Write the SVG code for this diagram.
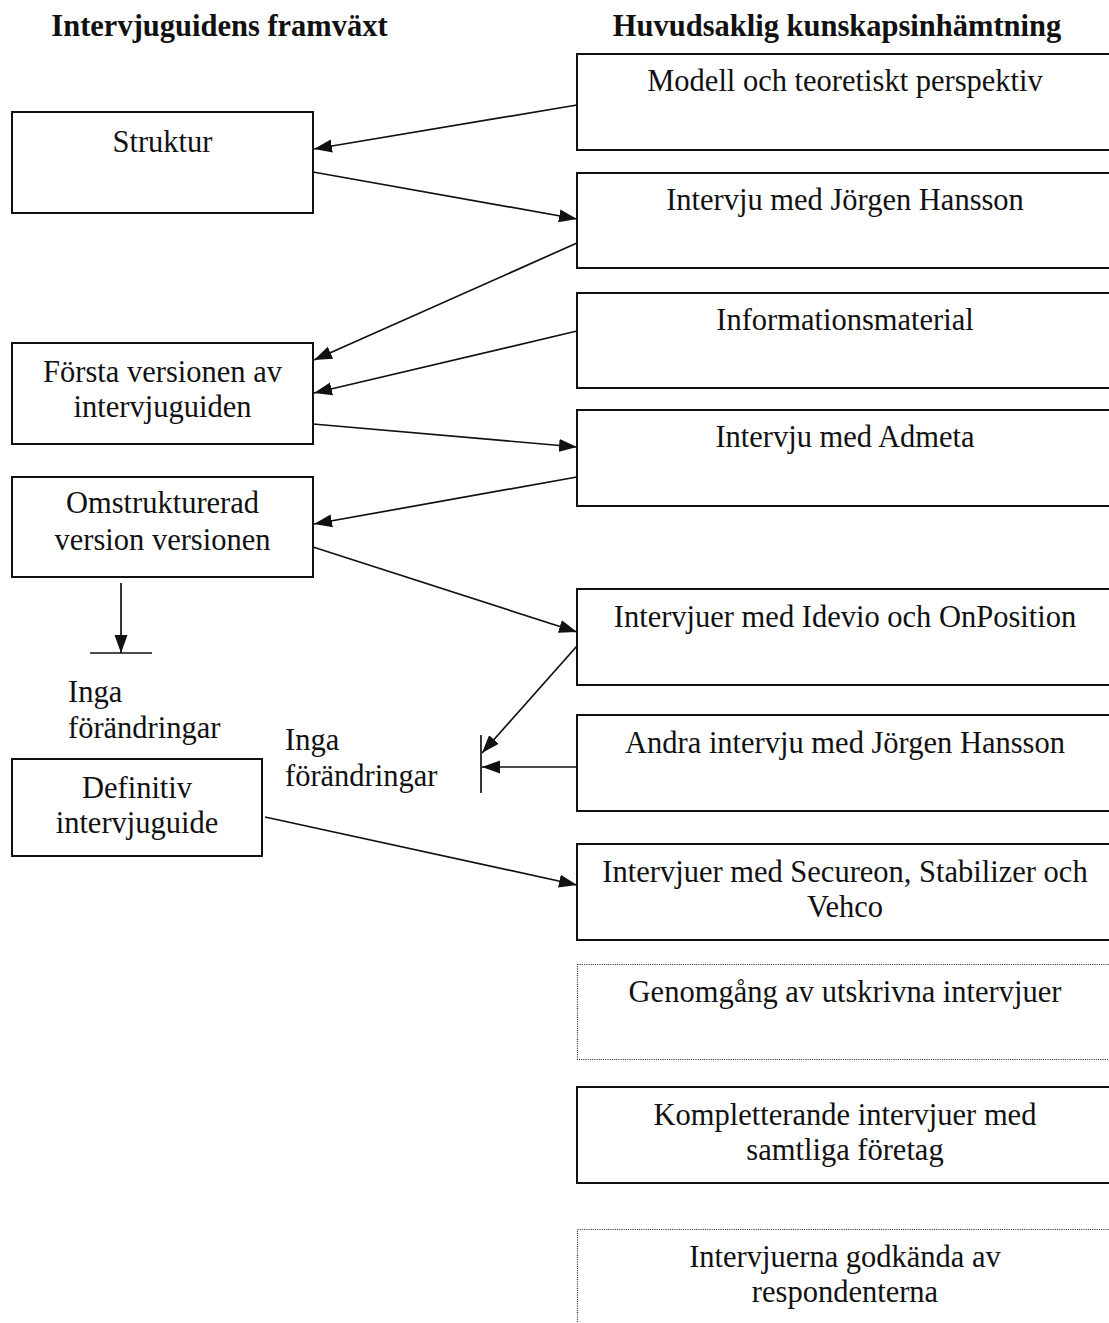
<svg xmlns="http://www.w3.org/2000/svg" width="1109" height="1323" viewBox="0 0 1109 1323">
<style>
  text { font-family: "Liberation Serif", "Times New Roman", serif; font-size: 30.5px; fill: #111; }
  .hdr { font-weight: bold; }
  .c { text-anchor: middle; }
  .box { fill: #fff; stroke: #111; stroke-width: 2; }
  .dot { fill: #fff; stroke: #222; stroke-width: 1.2; stroke-dasharray: 1 1.2; }
  .ln { stroke: #111; stroke-width: 1.7; fill: none; }
</style>
<defs>
  <marker id="ah" markerWidth="18" markerHeight="14" refX="18" refY="7" orient="auto" markerUnits="userSpaceOnUse">
    <path d="M0,0.5 L18,7 L0,13.5 z" fill="#111"/>
  </marker>
</defs>
<rect width="1109" height="1323" fill="#fff"/>

<g id="headers">
  <text class="hdr c" x="219.5" y="36">Intervjuguidens framväxt</text>
  <text class="hdr c" x="837" y="36">Huvudsaklig kunskapsinhämtning</text>
</g>

<g id="n-modell"><rect class="box" x="577" y="54" width="540" height="96"/><text class="c" x="845" y="91">Modell och teoretiskt perspektiv</text></g>
<g id="n-struktur"><rect class="box" x="12" y="112" width="301" height="101"/><text class="c" x="162.5" y="152">Struktur</text></g>
<g id="n-jorgen"><rect class="box" x="577" y="173" width="540" height="95"/><text class="c" x="845" y="210">Intervju med Jörgen Hansson</text></g>
<g id="n-info"><rect class="box" x="577" y="293" width="540" height="95"/><text class="c" x="845" y="330">Informationsmaterial</text></g>
<g id="n-forsta"><rect class="box" x="12" y="343" width="301" height="101"/><text class="c" x="162.5" y="382">Första versionen av</text><text class="c" x="162.5" y="417">intervjuguiden</text></g>
<g id="n-admeta"><rect class="box" x="577" y="410" width="540" height="96"/><text class="c" x="845" y="447">Intervju med Admeta</text></g>
<g id="n-omstr"><rect class="box" x="12" y="477" width="301" height="100"/><text class="c" x="162.5" y="513">Omstrukturerad</text><text class="c" x="162.5" y="550">version versionen</text></g>
<g id="n-idevio"><rect class="box" x="577" y="589" width="540" height="96"/><text class="c" x="845" y="627">Intervjuer med Idevio och OnPosition</text></g>
<g id="n-inga1"><text x="68" y="702">Inga</text><text x="68" y="738">förändringar</text></g>
<g id="n-andra"><rect class="box" x="577" y="715" width="540" height="96"/><text class="c" x="845" y="753">Andra intervju med Jörgen Hansson</text></g>
<g id="n-inga2"><text x="285" y="750">Inga</text><text x="285" y="786">förändringar</text></g>
<g id="n-definitiv"><rect class="box" x="12" y="759" width="250" height="97"/><text class="c" x="137" y="798">Definitiv</text><text class="c" x="137" y="833">intervjuguide</text></g>
<g id="n-secureon"><rect class="box" x="577" y="844" width="540" height="96"/><text class="c" x="845" y="882">Intervjuer med Secureon, Stabilizer och</text><text class="c" x="845" y="917">Vehco</text></g>
<g id="n-genomgang"><rect class="dot" x="577.5" y="964.5" width="540" height="95"/><text class="c" x="845" y="1002">Genomgång av utskrivna intervjuer</text></g>
<g id="n-kompl"><rect class="box" x="577" y="1087" width="540" height="96"/><text class="c" x="845" y="1125">Kompletterande intervjuer med</text><text class="c" x="845" y="1160">samtliga företag</text></g>
<g id="n-godkanda"><rect class="dot" x="577.5" y="1229.5" width="540" height="120"/><text class="c" x="845" y="1267">Intervjuerna godkända av</text><text class="c" x="845" y="1302">respondenterna</text></g>

<g id="connectors">
  <line class="ln" x1="577" y1="105" x2="314" y2="149" marker-end="url(#ah)"/>
  <line class="ln" x1="313" y1="172" x2="577" y2="219" marker-end="url(#ah)"/>
  <line class="ln" x1="577" y1="243" x2="314" y2="360" marker-end="url(#ah)"/>
  <line class="ln" x1="577" y1="331" x2="314" y2="393" marker-end="url(#ah)"/>
  <line class="ln" x1="313" y1="424" x2="577" y2="447" marker-end="url(#ah)"/>
  <line class="ln" x1="577" y1="477" x2="314" y2="524" marker-end="url(#ah)"/>
  <line class="ln" x1="313" y1="547" x2="577" y2="632" marker-end="url(#ah)"/>
  <line class="ln" x1="577" y1="646" x2="482" y2="753" marker-end="url(#ah)"/>
  <line class="ln" x1="577" y1="767" x2="482" y2="767" marker-end="url(#ah)"/>
  <line class="ln" x1="265" y1="817" x2="577" y2="885" marker-end="url(#ah)"/>
  <line class="ln" x1="121" y1="583" x2="121" y2="653" marker-end="url(#ah)"/>
  <line class="ln" x1="90" y1="653" x2="152" y2="653"/>
  <line class="ln" x1="481" y1="735" x2="481" y2="793"/>
</g>
</svg>
